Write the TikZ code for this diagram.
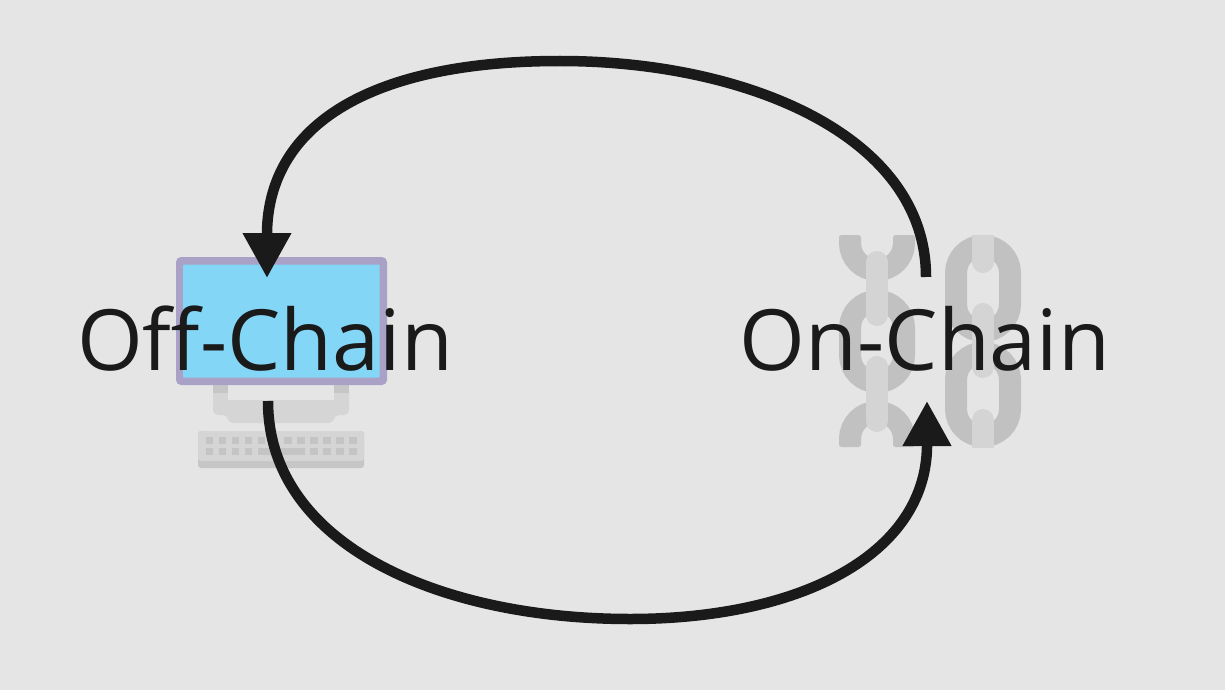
\documentclass[tikz,border=0pt]{standalone}
\usepackage{fontspec}
\setmainfont{Open Sans}
\usetikzlibrary{arrows.meta}
\definecolor{bgc}{HTML}{E5E5E5}
\definecolor{ink}{HTML}{1A1A1A}
\definecolor{linkdark}{HTML}{C1C1C1}
\definecolor{linklight}{HTML}{D4D4D4}
\definecolor{screen}{HTML}{83D6F5}
\definecolor{bezel}{HTML}{A9A2C6}
\definecolor{pcmid}{HTML}{D5D5D5}
\definecolor{pcdark}{HTML}{C6C6C6}
\definecolor{keyc}{HTML}{C4C4C4}
\tikzset{
  lbl/.style={text=ink,inner sep=0pt,font=\fontsize{84.5}{100}\selectfont},
  flow/.style={draw=ink,line width=10.5pt,-{Triangle[length=45pt,width=46pt]}},
  darklink/.style={draw=linkdark,line width=22pt},
  armend/.style={fill=linkdark,rounded corners=2.5pt},
  lightpill/.style={draw=linklight,line width=22pt,line cap=round},
  keycap/.style={fill=keyc}
}
\begin{document}
\begin{tikzpicture}[x=1pt,y=-1pt]
\useasboundingbox (0,0) rectangle (1225,690);
\fill[bgc] (0,0) rectangle (1225,690);
% stand
\fill[pcmid,rounded corners=5pt] (213,385) -- (349,385) -- (349,415) -- (334,415) -- (334,423) -- (228,423) -- (228,415) -- (213,415) -- cycle;
\fill[bgc] (228,385) rectangle (334,400);
\fill[pcdark] (213,385) rectangle (228,393);
\fill[pcdark] (334,385) rectangle (349,393);
% keyboard
\fill[pcdark,rounded corners=3pt] (198,431) rectangle (364,468);
\fill[pcmid,rounded corners=3pt] (198,431) rectangle (364,461);
\foreach \kx in {205.7,218.7,231.7,244.7,257.7,270.7,284.3,297.3,310.3,323.3,336.3,349.3}
  \fill[keycap] (\kx,437) rectangle +(7.6,7);
\foreach \kx in {205.7,218.7,231.7,244.7,310.3,323.3,336.3,349.3}
  \fill[keycap] (\kx,447.5) rectangle +(7.6,7);
\fill[keycap] (258,447.5) rectangle (304.5,454.5);
% monitor
\fill[bezel,rounded corners=5pt] (176,257) rectangle (387,385);
\fill[screen,rounded corners=1pt] (183,264.5) rectangle (379.5,377.5);
% left chain
\draw[darklink] (850,243) arc[start angle=180,end angle=0,radius=27];
\fill[armend] (839,235) rectangle (861,247);
\fill[armend] (893,235) rectangle (915,247);
\draw[darklink,rounded corners=26.9pt] (850,301) rectangle (904,382);
\draw[darklink] (850,439) arc[start angle=180,end angle=360,radius=27];
\fill[armend] (839,435) rectangle (861,447);
\fill[armend] (893,435) rectangle (915,447);
\draw[lightpill] (877,262) -- (877,315);
\draw[lightpill] (877,367) -- (877,421);
% right chain
\begin{scope}
\clip (930,235) rectangle (1030,447);
\draw[darklink,rounded corners=26.9pt] (956,246) rectangle (1010,331);
\draw[darklink,rounded corners=26.9pt] (956,353) rectangle (1010,436);
\draw[lightpill] (983,225) -- (983,262);
\draw[lightpill] (983,314) -- (983,367);
\draw[lightpill] (983,420) -- (983,460);
\end{scope}
% labels
\node[lbl] (off) at (265,339) {Off-Chain};
\node[lbl] (on) at (925,339) {On-Chain};
% connectors
\coordinate (onTop) at (926,277);
\coordinate (offTip) at (267,278);
\coordinate (offBot) at (268,401);
\coordinate (onTip) at (927,401);
\draw[flow] (onTop) .. controls (926,135) and (745,61) .. (560,61) .. controls (370,61) and (269,125) .. (267,232) -- (offTip);
\draw[flow] (offBot) .. controls (268,545) and (440,619) .. (630,619) .. controls (800,619) and (925,555) .. (927,447) -- (onTip);
\end{tikzpicture}
\end{document}
